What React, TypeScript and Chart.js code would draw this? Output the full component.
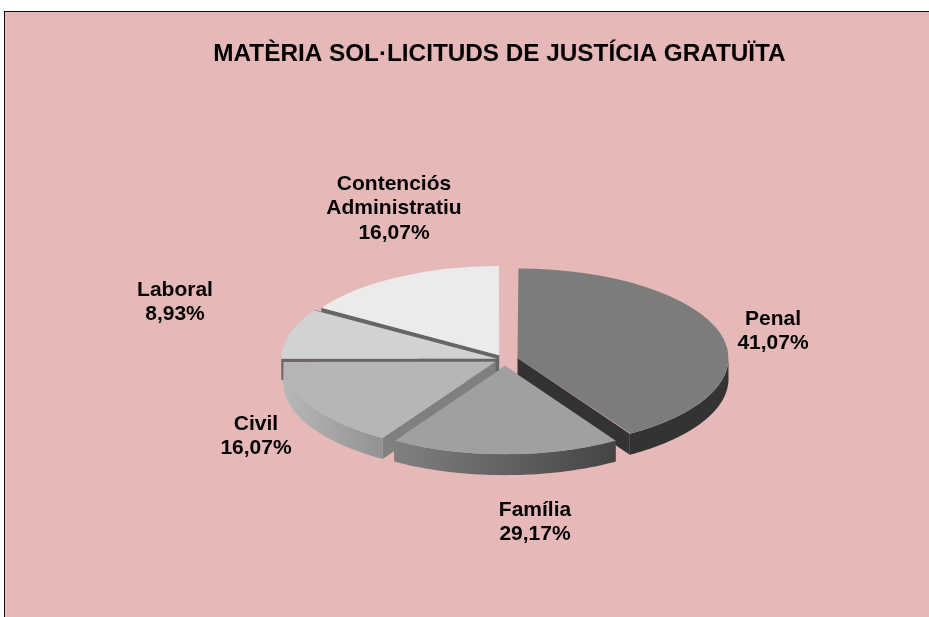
import React, { useEffect, useRef } from "react";
import { Chart, registerables } from "chart.js";

Chart.register(...registerables);

const chartTitle = "MATÈRIA SOL·LICITUDS DE JUSTÍCIA GRATUÏTA";
const categories = ["Penal", "Família", "Civil", "Laboral", "Contenciós Administratiu"];
const sliceShares = [41.07, 17.86, 16.07, 8.93, 16.07];
const percentLabels = ["41,07%", "29,17%", "16,07%", "8,93%", "16,07%"];
const labelLines = [["Penal"], ["Família"], ["Civil"], ["Laboral"], ["Contenciós", "Administratiu"]];
const topColors = ["#7C7C7C", "#A0A0A0", "#B6B6B6", "#D2D2D2", "#EBEBEB"];
const cutColors = ["#333333", "#6E6E6E", "#808080", "#666666", "#666666"];
const explode = [13, 15, 11, 8, 12];
const sliceRadii = [211, 208, 212, 216, 210];
const paintOrder = [4, 3, 2, 0, 1];

const FONT = '"Liberation Sans", Arial, sans-serif';
const SQUASH = 0.424;
const DEPTH = 21;
const SHIFT_X = 5.5;
const labelAnchors = [
  [773, 319],
  [535, 510],
  [256, 424],
  [175, 290],
  [394, 184],
];

const fixFor = (share: number) => {
  const c = (share / 100) * Math.PI * 2;
  return 1 - Math.sin(Math.min(Math.PI, c));
};
const sliceOffsets = explode.map((d) => d * 4);

const pie3d = {
  id: "pie3d",
  beforeDraw(chart: any) {
    const { ctx, width, height } = chart;
    ctx.save();
    ctx.fillStyle = "#E6B8B7";
    ctx.fillRect(4, 11, width, height);
    ctx.fillStyle = "#111111";
    ctx.fillRect(4, 11, width, 1);
    ctx.fillRect(4, 11, 1, height);
    ctx.restore();
  },
  beforeDatasetsDraw(chart: any) {
    const { ctx } = chart;
    const arcs = chart.getDatasetMeta(0).data;
    paintOrder.forEach((i) => {
      const arc = arcs[i];
      const { x, y, startAngle, endAngle, outerRadius } = arc.getProps(
        ["x", "y", "startAngle", "endAngle", "outerRadius"],
        true
      );
      const mid = (startAngle + endAngle) / 2;
      const d = explode[i];
      const drawn = outerRadius + d * fixFor(sliceShares[i]);
      const r = sliceRadii[i];
      const grow = r / drawn;
      const apexX = x + Math.cos(mid) * d;
      const apexY = y + Math.sin(mid) * d;
      const cx = apexX + SHIFT_X;
      const cy = y + (apexY - y) * SQUASH;
      const px = (a: number) => cx + Math.cos(a) * r;
      const py = (a: number) => cy + Math.sin(a) * r * SQUASH;

      // cut faces
      [startAngle, endAngle].forEach((a: number) => {
        ctx.fillStyle = cutColors[i];
        ctx.beginPath();
        ctx.moveTo(cx, cy);
        ctx.lineTo(px(a), py(a));
        ctx.lineTo(px(a), py(a) + DEPTH);
        ctx.lineTo(cx, cy + DEPTH);
        ctx.closePath();
        ctx.fill();
      });

      // outer wall (front half only)
      const walls: [number, number][] = [];
      const from = Math.max(startAngle, 0);
      const to = Math.min(endAngle, Math.PI);
      if (from < to) walls.push([from, to]);
      const from2 = Math.max(startAngle, Math.PI * 2);
      const to2 = Math.min(endAngle, Math.PI * 3);
      if (from2 < to2) walls.push([from2, to2]);
      walls.forEach(([a0, a1]) => {
        const g = ctx.createLinearGradient(px(a1), 0, px(a0), 0);
        if (i === 1) {
          g.addColorStop(0, "#808080");
          g.addColorStop(1, "#444444");
        } else if (i === 2) {
          g.addColorStop(0, "#B8B8B8");
          g.addColorStop(1, "#929292");
        } else {
          g.addColorStop(0, cutColors[i]);
          g.addColorStop(1, cutColors[i]);
        }
        ctx.fillStyle = g;
        ctx.beginPath();
        const steps = 60;
        for (let s = 0; s <= steps; s++) {
          const a = a0 + ((a1 - a0) * s) / steps;
          if (s === 0) ctx.moveTo(px(a), py(a));
          else ctx.lineTo(px(a), py(a));
        }
        for (let s = steps; s >= 0; s--) {
          const a = a0 + ((a1 - a0) * s) / steps;
          ctx.lineTo(px(a), py(a) + DEPTH);
        }
        ctx.closePath();
        ctx.fill();
      });

      // top face, drawn by the library's own arc element
      ctx.save();
      ctx.translate(SHIFT_X, y);
      ctx.scale(1, SQUASH);
      ctx.translate(0, -y);
      ctx.translate(apexX, apexY);
      ctx.scale(grow, grow);
      ctx.translate(-apexX, -apexY);
      arc.draw(ctx);
      ctx.restore();
    });

    // data labels
    ctx.save();
    ctx.fillStyle = "#000000";
    ctx.font = `bold 21px ${FONT}`;
    ctx.textAlign = "center";
    ctx.textBaseline = "middle";
    categories.forEach((_, i) => {
      const lines = [...labelLines[i], percentLabels[i]];
      lines.forEach((t, n) => {
        ctx.fillText(t, labelAnchors[i][0], labelAnchors[i][1] + n * 24.6);
      });
    });
    ctx.restore();
    return false;
  },
};

export default function App() {
  const ref = useRef<HTMLCanvasElement>(null);
  useEffect(() => {
    if (!ref.current) return;
    const chart = new Chart(ref.current, {
      type: "pie",
      data: {
        labels: categories,
        datasets: [
          {
            data: sliceShares,
            backgroundColor: topColors,
            borderWidth: 0,
            offset: sliceOffsets,
          },
        ],
      },
      options: {
        responsive: false,
        animation: false,
        radius: 205,
        layout: { padding: { left: 70, right: 0, top: 0, bottom: 0 } },
        plugins: {
          legend: { display: false },
          tooltip: { enabled: false },
          title: {
            display: true,
            text: chartTitle,
            color: "#000000",
            font: { family: FONT, size: 24.3, weight: "bold" },
            padding: { top: 40.2, bottom: 32.8 },
          },
        },
      },
      plugins: [pie3d],
    } as any);
    return () => chart.destroy();
  }, []);
  return (
    <div style={{ position: "fixed", left: 0, top: 0, width: 929, height: 617, background: "#fff" }}>
      <canvas ref={ref} width={929} height={617} style={{ display: "block" }} />
    </div>
  );
}
